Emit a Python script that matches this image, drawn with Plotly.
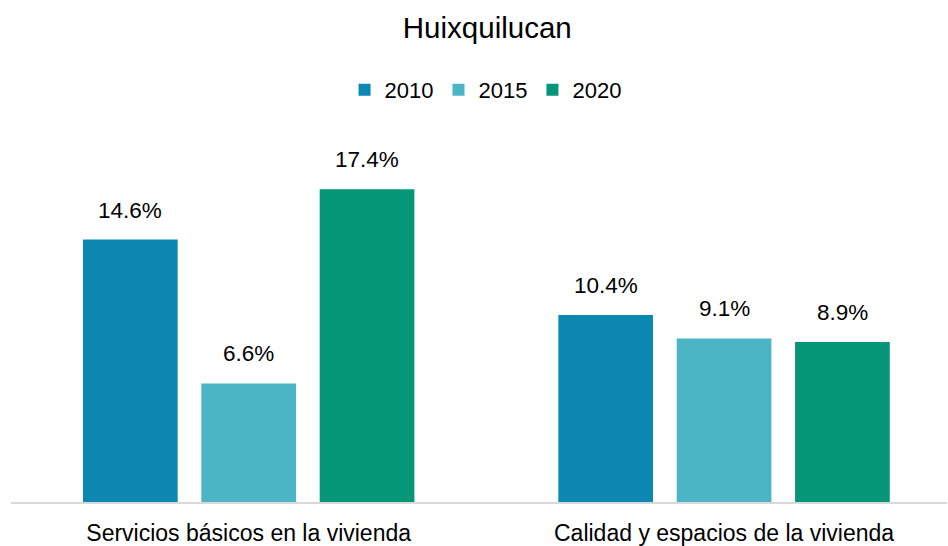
import plotly.graph_objects as go

# Housing deprivation indicators for Huixquilucan (percent of population)
categories = ["Servicios básicos en la vivienda", "Calidad y espacios de la vivienda"]
years = ["2010", "2015", "2020"]
values_2010 = [14.6, 10.4]
values_2015 = [6.6, 9.1]
values_2020 = [17.4, 8.9]
series = [values_2010, values_2015, values_2020]
colors = ["#0B87B2", "#4BB5C5", "#049677"]

FONT = "Liberation Sans, Arial, sans-serif"
BARGAP = 0.253
BARGROUPGAP = 0.2

fig = go.Figure()
for name, vals, col in zip(years, series, colors):
    fig.add_trace(go.Bar(
        name=name,
        x=categories,
        y=vals,
        marker=dict(color=col, line=dict(width=0)),
        hoverinfo="skip",
    ))

# Value labels above each bar, positioned from the bar-group geometry
slot = (1 - BARGAP) / len(series)
for k, vals in enumerate(series):
    offset = (k - (len(series) - 1) / 2) * slot
    for i, v in enumerate(vals):
        fig.add_annotation(
            x=i + offset, y=v, xref="x", yref="y",
            text=f"{v:.1f}%", showarrow=False,
            yanchor="bottom", yshift=15,
            font=dict(family=FONT, size=22.5, color="#000000"),
        )

fig.update_layout(
    width=948, height=546,
    margin=dict(l=11, r=1, t=110, b=44),
    paper_bgcolor="white", plot_bgcolor="white",
    barmode="group", bargap=BARGAP, bargroupgap=BARGROUPGAP,
    font=dict(family=FONT, size=22, color="#000000"),
    title=dict(
        text="Huixquilucan", x=0.514, xanchor="center",
        y=1 - 28 / 546, yanchor="middle",
        font=dict(family=FONT, size=29.5, color="#000000"),
    ),
    legend=dict(
        orientation="h", x=0.507, xanchor="center",
        y=1 + 20 / 392, yanchor="middle",
        font=dict(family=FONT, size=22, color="#000000"),
        itemwidth=30, itemclick=False, traceorder="normal",
    ),
    showlegend=True,
)
fig.update_xaxes(
    type="category", range=[-0.5, 1.469],
    showline=True, linecolor="#D9D9D9", linewidth=2,
    ticks="", showgrid=False, zeroline=False,
    ticklabelstandoff=9,
    tickfont=dict(family=FONT, size=23, color="#000000"),
)
fig.update_yaxes(
    range=[0, 21.81], visible=False, showgrid=False, zeroline=False,
)

fig.write_html("out.html")
